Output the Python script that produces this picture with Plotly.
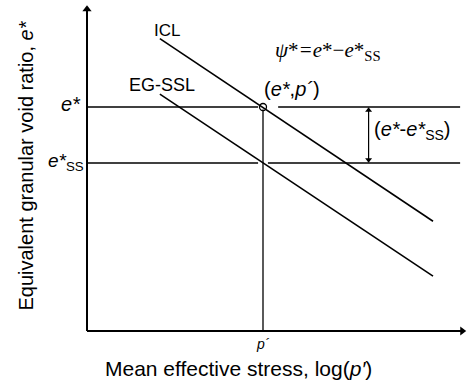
import plotly.graph_objects as go

# Schematic values (arbitrary units: x = log(p'), y = e*)
p_prime = 5.0
e_star = 8.0
e_star_ss = 6.0
icl_x = [2.07, 9.83]
icl_y = [10.44, 3.92]
ssl_x = [2.07, 9.83]
ssl_y = [8.46, 1.96]
e_left = [0.0, 4.86]
e_right = [5.43, 10.60]
ess_left = [0.0, 4.86]
ess_right = [5.14, 10.60]
x_max = 10.78
y_max = 11.64
arrow_x = 8.0

FONT = "Liberation Sans, Arial, sans-serif"
SERIF = "Liberation Serif, Times New Roman, serif"
LW = 1.6

fig = go.Figure()

def seg(xs, ys, w=LW):
    fig.add_trace(go.Scatter(x=xs, y=ys, mode="lines",
                             line=dict(color="black", width=w),
                             showlegend=False, hoverinfo="skip"))

def head(x, y, sym, size):
    fig.add_trace(go.Scatter(x=[x], y=[y], mode="markers",
                             marker=dict(symbol=sym, size=size, color="black",
                                         line=dict(width=0)),
                             showlegend=False, hoverinfo="skip"))

# axes
seg([0, x_max - 0.15], [0, 0], w=2)
seg([0, 0], [0, y_max - 0.2], w=2)
head(x_max - 0.12, 0, "triangle-right", 8)
head(0, y_max - 0.15, "triangle-up", 8)

seg(icl_x, icl_y)
seg(ssl_x, ssl_y)
seg(e_left, [e_star, e_star])
seg(e_right, [e_star, e_star])
seg(ess_left, [e_star_ss, e_star_ss])
seg(ess_right, [e_star_ss, e_star_ss])
seg([p_prime, p_prime], [0, e_star - 0.1], w=1.3)

# double-headed arrow
seg([arrow_x, arrow_x], [e_star_ss + 0.1, e_star - 0.1], w=1.2)
head(arrow_x, e_star - 0.12, "triangle-up", 6)
head(arrow_x, e_star_ss + 0.12, "triangle-down", 6)

fig.add_trace(go.Scatter(x=[p_prime], y=[e_star], mode="markers",
                         marker=dict(symbol="circle-open", size=7,
                                     color="black", line=dict(width=1.3)),
                         showlegend=False, hoverinfo="skip"))

anns = []

def txt(x, y, s, size=16, family=FONT, xanchor="center"):
    anns.append(dict(x=x, y=y, xref="x", yref="y", text=s, showarrow=False,
                     font=dict(family=family, size=size, color="black"), xanchor=xanchor))

txt(2.28, 10.75, "ICL", size=17)
txt(2.13, 8.8, "EG-SSL", size=18)
txt(6.85, 10.0, "<i>ψ</i>*<i>=e</i>*−<i>e</i>*<sub>SS</sub>", size=21, family=SERIF)
txt(5.82, 8.65, "(<i>e*</i>,<i>p´</i>)", size=20)
txt(8.1, 7.15, "(<i>e*</i>-<i>e*</i><sub>SS</sub>)", size=20, xanchor="left")
txt(-0.12, 8.1, "<i>e*</i>", size=20, xanchor="right")
txt(-0.02, 6.05, "<i>e*</i><sub>SS</sub>", size=19, xanchor="right")
txt(p_prime, -0.45, "<i>p´</i>", size=14)
txt(4.31, -1.33, "Mean effective stress, log(<i>p′</i>)", size=21)
anns.append(dict(x=-1.74, y=5.9, xref="x", yref="y", text="Equivalent granular void ratio, <i>e*</i>",
                 showarrow=False, textangle=-90,
                 font=dict(family=FONT, size=20, color="black")))

fig.update_layout(
    width=467, height=385,
    margin=dict(l=0, r=0, t=0, b=0),
    paper_bgcolor="white", plot_bgcolor="white",
    xaxis=dict(range=[-87/35.2, 380/35.2], visible=False, fixedrange=True),
    yaxis=dict(range=[-54/28, 331/28], visible=False, fixedrange=True),
    annotations=anns,
    showlegend=False,
)

fig.write_html("out.html", config={"displayModeBar": False},
               post_script="document.body.style.margin='0';document.body.style.overflow='hidden';")
